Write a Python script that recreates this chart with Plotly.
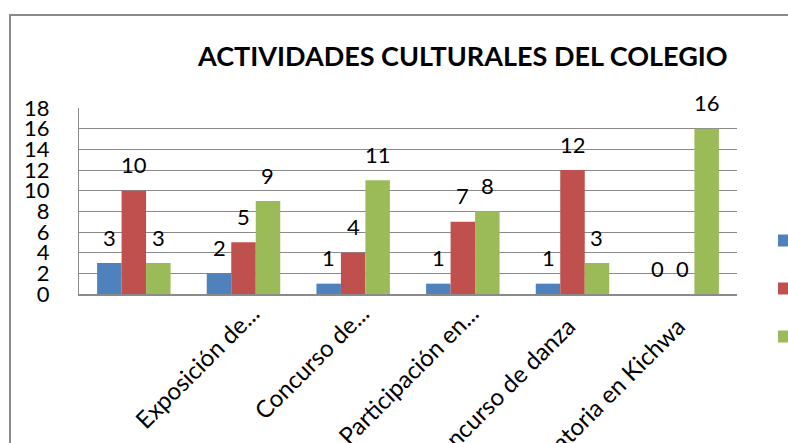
import plotly.graph_objects as go

NB = "\u00a0"
categories = ["", "Exposición de...", "Concurso de...", "Participación en...",
              "Concurso de danza" + NB * 3, "Oratoria en Kichwa" + NB * 3]
series_names = ["Siempre", "A veces", "Nunca"]
serie1 = [3, 2, 1, 1, 1, 0]
serie2 = [10, 5, 4, 7, 12, 0]
serie3 = [3, 9, 11, 8, 3, 16]
colors = ["#4F81BD", "#C0504D", "#9BBB59"]
y_ticks = list(range(0, 19, 2))

OFF = 0  # body margin removed via post_script
W, H = 788, 443
# plot area in page pixels: x 79..737, y 108..294
ML, MT = 79 - OFF, 108 - OFF
PW, PH = 737 - 79, 294 - 108
MR, MB = W - ML - PW, H - MT - PH
BARGAP = 0.33
FONT = "Lato, Calibri, Carlito, sans-serif"


def px_x(page_x):
    return (page_x - OFF - ML) / PW


def px_y(page_y):
    return (MT + PH - (page_y - OFF)) / PH


fig = go.Figure()
xs = list(range(len(categories)))
all_series = [serie1, serie2, serie3]
for i, (name, vals) in enumerate(zip(series_names, all_series)):
    fig.add_trace(go.Bar(x=xs, y=vals, name=name, marker_color=colors[i],
                         marker_line_width=0, legendgroup=name))

# data labels above bars
slot = (1 - BARGAP) / 3
annotations = []
for i, vals in enumerate(all_series):
    for k, v in enumerate(vals):
        annotations.append(dict(x=k + (i - 1) * slot, y=v, xref="x", yref="y",
                                text=str(v), showarrow=False, yanchor="middle",
                                yshift=26, font=dict(size=22, color="black", family=FONT)))

annotations.append(dict(x=px_x(462), xref="paper", xanchor="center",
                        y=px_y(55), yref="paper", yanchor="middle",
                        text="<b>ACTIVIDADES CULTURALES DEL COLEGIO</b>",
                        showarrow=False, font=dict(size=27, color="black", family=FONT)))

fig.update_layout(
    width=W, height=H,
    margin=dict(l=ML, r=MR, t=MT, b=MB, autoexpand=False),
    paper_bgcolor="white", plot_bgcolor="white",
    barmode="group", bargap=BARGAP, bargroupgap=0,
    font=dict(family=FONT, size=20, color="black"),
    annotations=annotations,
    showlegend=True,
    legend=dict(x=px_x(764), xanchor="left", y=px_y(221), yanchor="top",
                traceorder="grouped", tracegroupgap=19,
                font=dict(size=20, family=FONT), bgcolor="rgba(0,0,0,0)"),
    xaxis=dict(tickmode="array", tickvals=xs, ticktext=categories, tickangle=-45,
               showgrid=False, showline=True, linecolor="#8a8a8a", linewidth=2,
               ticks="", range=[-0.5, len(categories) - 0.5],
               ticklabelshift=9, ticklabelstandoff=-6,
               tickfont=dict(size=24, family=FONT), automargin=False),
    yaxis=dict(range=[0, 18], tickvals=y_ticks, showgrid=True, gridcolor="#8a8a8a",
               gridwidth=1.3, showline=True, linecolor="#8a8a8a", linewidth=1.3,
               ticks="", ticklabelstandoff=24, zeroline=False,
               tickfont=dict(size=22, family=FONT), automargin=False),
    shapes=[dict(type="rect", xref="paper", yref="paper",
                 x0=px_x(10), x1=px_x(820),
                 y0=px_y(480), y1=px_y(15),
                 line=dict(color="#8a8a8a", width=2), layer="below")],
)

fig.write_html("out.html", config={"displayModeBar": False},
               post_script="document.body.style.margin='0';"
                           "document.body.style.overflow='hidden';")
